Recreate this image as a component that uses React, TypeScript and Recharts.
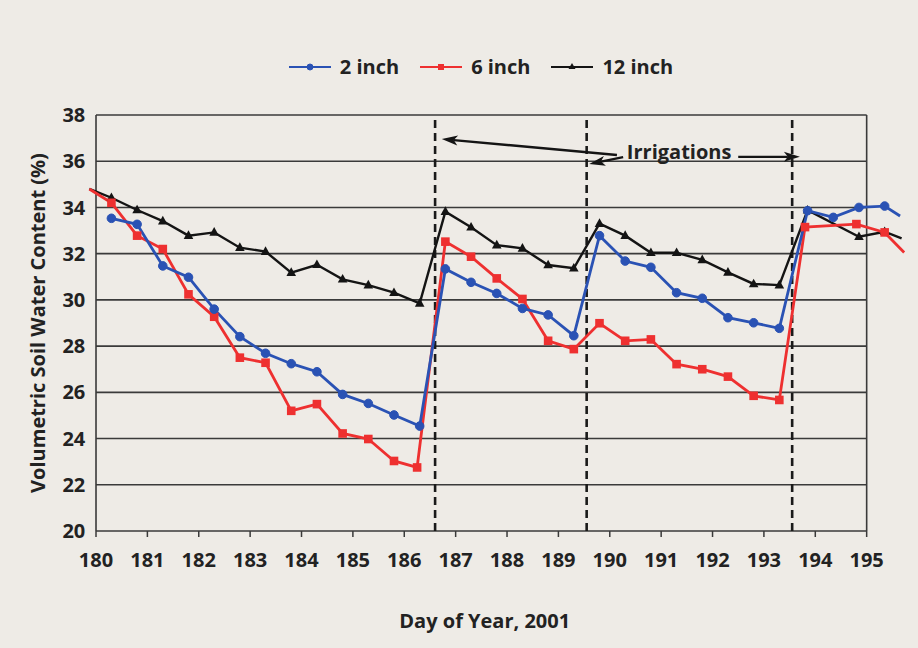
import React from 'react';
import {
  LineChart, Line, XAxis, YAxis, ReferenceLine, ReferenceDot, Legend, Label,
} from 'recharts';

// ---------- data ----------
const blueDays = [180.3, 180.8, 181.3, 181.8, 182.3, 182.8, 183.3, 183.8, 184.3, 184.8, 185.3, 185.8, 186.3, 186.8, 187.3, 187.8, 188.3, 188.8, 189.3, 189.8, 190.3, 190.8, 191.3, 191.8, 192.3, 192.8, 193.3, 193.85, 194.35, 194.85, 195.35, 195.65];
const blueVals = [33.53, 33.27, 31.47, 30.98, 29.6, 28.41, 27.69, 27.24, 26.89, 25.91, 25.52, 25.02, 24.54, 31.34, 30.76, 30.28, 29.63, 29.35, 28.45, 32.78, 31.68, 31.41, 30.31, 30.07, 29.23, 29.01, 28.77, 33.86, 33.57, 34.0, 34.06, 33.63];

const redDays = [179.87, 180.3, 180.8, 181.3, 181.8, 182.3, 182.8, 183.3, 183.8, 184.3, 184.8, 185.3, 185.8, 186.25, 186.8, 187.3, 187.8, 188.3, 188.8, 189.3, 189.8, 190.3, 190.8, 191.3, 191.8, 192.3, 192.8, 193.3, 193.8, 194.8, 195.35, 195.73];
const redVals = [34.8, 34.2, 32.78, 32.2, 30.24, 29.27, 27.5, 27.28, 25.2, 25.49, 24.22, 23.98, 23.03, 22.75, 32.52, 31.87, 30.93, 30.04, 28.23, 27.87, 28.99, 28.23, 28.29, 27.22, 27.0, 26.68, 25.85, 25.67, 33.15, 33.28, 32.92, 32.05];

const blackDays = [179.87, 180.3, 180.8, 181.3, 181.8, 182.3, 182.8, 183.3, 183.8, 184.3, 184.8, 185.3, 185.8, 186.3, 186.8, 187.3, 187.8, 188.3, 188.8, 189.3, 189.8, 190.3, 190.8, 191.3, 191.8, 192.3, 192.8, 193.3, 193.85, 194.85, 195.35, 195.68];
const blackVals = [34.8, 34.42, 33.89, 33.41, 32.78, 32.92, 32.26, 32.09, 31.18, 31.52, 30.89, 30.64, 30.31, 29.85, 33.82, 33.14, 32.37, 32.23, 31.51, 31.37, 33.3, 32.78, 32.04, 32.04, 31.73, 31.19, 30.69, 30.64, 33.88, 32.73, 32.95, 32.66];

const seriesNames = ['2 inch', '6 inch', '12 inch'];
const xTicks = [180, 181, 182, 183, 184, 185, 186, 187, 188, 189, 190, 191, 192, 193, 194, 195];
const yTicks = [20, 22, 24, 26, 28, 30, 32, 34, 36, 38];
const irrigationDays = [186.6, 189.55, 193.55];
const annotationText = 'Irrigations';
const xTitle = 'Day of Year, 2001';
const yTitle = 'Volumetric Soil Water Content (%)';

const toRows = (days: number[], vals: number[]) => days.map((d, i) => ({ day: d, value: vals[i] }));
const blueData = toRows(blueDays, blueVals);
const redData = toRows(redDays, redVals);
const blackData = toRows(blackDays, blackVals);

// ---------- styles ----------
const BLUE = '#2a52b4';
const RED = '#ee3030';
const BLACK = '#141414';
const GRID = '#3a3a3a';
const BG = '#eeebe6';
const FONT = '"Open Sans", "Noto Sans", sans-serif';
const FS = 20;

type Shape = 'circle' | 'square' | 'triangle';

const drawMarker = (shape: Shape, cx: number, cy: number, color: string, s: number) => {
  if (shape === 'circle') return <circle cx={cx} cy={cy} r={s} fill={color} stroke={color} />;
  if (shape === 'square') return <rect x={cx - s} y={cy - s} width={2 * s} height={2 * s} fill={color} />;
  return <polygon points={`${cx},${cy - s - 1} ${cx - s - 0.5},${cy + s - 1} ${cx + s + 0.5},${cy + s - 1}`} fill={color} />;
};

const makeDot = (shape: Shape, color: string, count: number, skipFirst: boolean) => (props: any) => {
  const { cx, cy, index } = props;
  const hide = (skipFirst && index === 0) || index === count - 1 || cx == null || cy == null;
  if (hide) return <g key={`d-${index}`} />;
  return <g key={`d-${index}`}>{drawMarker(shape, cx, cy, color, 4.3)}</g>;
};

const arrowShape = (props: any) => {
  const { x1, y1, x2, y2 } = props;
  const ang = Math.atan2(y2 - y1, x2 - x1);
  const L = 16, W = 5;
  const c = Math.cos(ang), s = Math.sin(ang);
  const bx = x2 - L * c, by = y2 - L * s;
  const nx = x2 - (L - 4) * c, ny = y2 - (L - 4) * s;
  const p1 = `${bx + W * s},${by - W * c}`;
  const p2 = `${bx - W * s},${by + W * c}`;
  return (
    <g>
      <line x1={x1} y1={y1} x2={nx} y2={ny} stroke={BLACK} strokeWidth={2.4} />
      <polygon points={`${x2},${y2} ${p1} ${nx},${ny} ${p2}`} fill={BLACK} />
    </g>
  );
};

const legendItems = [
  { name: seriesNames[0], color: BLUE, shape: 'circle' as Shape },
  { name: seriesNames[1], color: RED, shape: 'square' as Shape },
  { name: seriesNames[2], color: BLACK, shape: 'triangle' as Shape },
];

const LegendContent = () => (
  <div style={{ display: 'flex', justifyContent: 'center', alignItems: 'center', fontFamily: FONT, fontWeight: 700, fontSize: FS, color: '#222' }}>
    {legendItems.map((it, i) => (
      <div key={it.name} style={{ display: 'flex', alignItems: 'center', marginLeft: i === 0 ? 0 : 21 }}>
        <svg width={42} height={12} style={{ display: 'block' }}>
          <line x1={0} y1={6} x2={42} y2={6} stroke={it.color} strokeWidth={1.8} />
          {drawMarker(it.shape, 21, 6, it.color, 3)}
        </svg>
        <span style={{ marginLeft: 9 }}>{it.name}</span>
      </div>
    ))}
  </div>
);

const tickStyle = { fill: '#222', fontSize: FS, fontWeight: 700, fontFamily: FONT };

export default function App() {
  return (
    <div style={{ position: 'absolute', left: 0, top: 0, width: 918, height: 648, background: BG, fontFamily: FONT }}>
      <LineChart width={918} height={648} margin={{ top: 115, right: 12.8, bottom: 57, left: 0 }}>
        <XAxis
          type="number"
          dataKey="day"
          domain={[179.85, 195.75]}
          ticks={xTicks}
          interval={0}
          axisLine={false}
          tickLine={{ stroke: GRID, strokeWidth: 1.5 }}
          tickSize={6}
          tickMargin={16}
          height={60}
          tick={tickStyle}
          allowDecimals
        >
          <Label
            content={(p: any) => {
              const vb = p.viewBox;
              return (
                <text x={vb.x + vb.width / 2 - 12} y={vb.y + 97} textAnchor="middle" fill="#222" fontSize={FS} fontWeight={700} fontFamily={FONT}>
                  {xTitle}
                </text>
              );
            }}
          />
        </XAxis>
        <YAxis
          type="number"
          domain={[20, 38]}
          ticks={yTicks}
          interval={0}
          axisLine={false}
          tickLine={false}
          tickSize={0}
          tickMargin={3}
          width={88.3}
          tick={tickStyle}
        >
          <Label
            content={(p: any) => {
              const vb = p.viewBox;
              const cx = vb.x + 37;
              const cy = vb.y + vb.height / 2;
              return (
                <text x={cx} y={cy} transform={`rotate(-90 ${cx} ${cy})`} textAnchor="middle" dominantBaseline="central" fill="#222" fontSize={FS} fontWeight={700} fontFamily={FONT}>
                  {yTitle}
                </text>
              );
            }}
          />
        </YAxis>

        {yTicks.map((v) => (
          <ReferenceLine key={`g${v}`} segment={[{ x: 180, y: v }, { x: 195, y: v }]} stroke={GRID} strokeWidth={1.6} />
        ))}
        <ReferenceLine segment={[{ x: 180, y: 20 }, { x: 180, y: 38 }]} stroke={GRID} strokeWidth={1.6} />
        <ReferenceLine segment={[{ x: 195, y: 20 }, { x: 195, y: 38 }]} stroke={GRID} strokeWidth={1.6} />

        {irrigationDays.map((d) => (
          <ReferenceLine key={`irr${d}`} segment={[{ x: d, y: 20 }, { x: d, y: 38 }]} stroke="#1a1a1a" strokeWidth={2.6} strokeDasharray="8 5" />
        ))}

        <ReferenceLine segment={[{ x: 190.14, y: 36.27 }, { x: 186.73, y: 36.96 }]} shape={arrowShape} />
        <ReferenceLine segment={[{ x: 190.26, y: 36.18 }, { x: 189.6, y: 35.88 }]} shape={arrowShape} />
        <ReferenceLine segment={[{ x: 192.5, y: 36.19 }, { x: 193.7, y: 36.19 }]} shape={arrowShape} />
        <ReferenceDot
          x={191.35}
          y={36.4}
          r={0}
          shape={(p: any) => (
            <text x={p.cx} y={p.cy} textAnchor="middle" dominantBaseline="central" fill="#222" fontSize={FS} fontWeight={700} fontFamily={FONT}>
              {annotationText}
            </text>
          )}
        />

        <Line data={blackData} dataKey="value" name={seriesNames[2]} stroke={BLACK} strokeWidth={2.4} dot={makeDot('triangle', BLACK, blackData.length, true)} activeDot={false} isAnimationActive={false} />
        <Line data={redData} dataKey="value" name={seriesNames[1]} stroke={RED} strokeWidth={2.8} dot={makeDot('square', RED, redData.length, true)} activeDot={false} isAnimationActive={false} />
        <Line data={blueData} dataKey="value" name={seriesNames[0]} stroke={BLUE} strokeWidth={2.8} dot={makeDot('circle', BLUE, blueData.length, false)} activeDot={false} isAnimationActive={false} />

        <Legend
          layout="horizontal"
          verticalAlign="middle"
          align="center"
          content={() => <LegendContent />}
          wrapperStyle={{ top: 53, left: 22, width: 918 }}
        />
      </LineChart>
    </div>
  );
}
